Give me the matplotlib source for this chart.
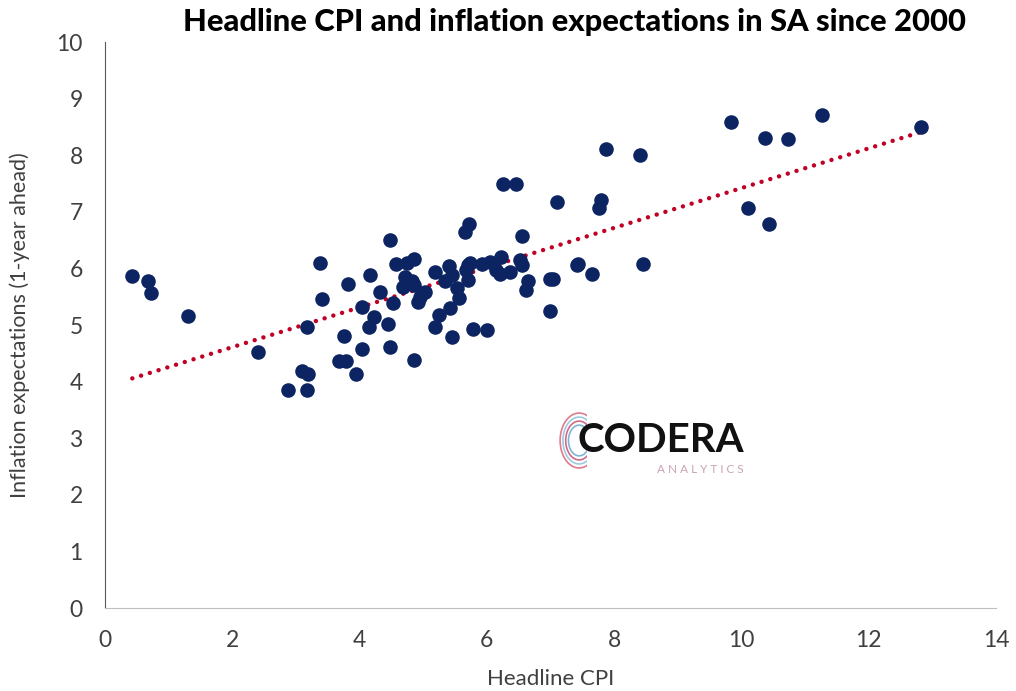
import numpy as np
import matplotlib.pyplot as plt
from matplotlib.patches import Arc

# headline CPI (x) vs 1-year-ahead inflation expectations (y)
cpi = [0.43, 0.67, 0.73, 1.30, 2.41, 2.88, 3.18, 3.09, 3.19, 3.17, 3.38, 3.41,
       3.75, 3.67, 3.79, 3.82, 3.94, 4.04, 4.04, 4.15, 4.17, 4.22, 4.32, 4.45,
       4.48, 4.48, 4.52, 4.58, 4.74, 4.85, 4.71, 4.82, 4.69, 4.85, 4.85, 4.92,
       4.95, 5.03, 5.19, 5.19, 5.25, 5.34, 5.40, 5.42, 5.46, 5.46, 5.53, 5.56,
       5.66, 5.72, 5.68, 5.70, 5.74, 5.70, 5.79, 5.92, 6.00, 6.05, 6.15, 6.21,
       6.22, 6.25, 6.36, 6.46, 6.52, 6.55, 6.55, 6.62, 6.65, 6.99, 6.99, 7.04,
       7.10, 7.41, 7.44, 7.66, 7.76, 7.79, 7.87, 8.40, 8.46, 9.84, 10.11, 10.37,
       10.44, 10.73, 11.27, 12.82]
expect = [5.87, 5.77, 5.57, 5.16, 4.52, 3.86, 3.86, 4.18, 4.14, 4.97, 6.10, 5.46,
          4.81, 4.37, 4.37, 5.72, 4.13, 5.31, 4.57, 4.97, 5.88, 5.14, 5.58, 5.01,
          6.50, 4.61, 5.39, 6.07, 6.09, 6.16, 5.84, 5.77, 5.68, 5.71, 4.39, 5.41,
          5.50, 5.59, 5.94, 4.97, 5.18, 5.78, 6.05, 5.30, 5.88, 4.78, 5.66, 5.47,
          6.65, 6.78, 5.97, 6.06, 6.09, 5.80, 4.93, 6.08, 4.92, 6.12, 5.97, 5.91,
          6.21, 7.49, 5.94, 7.49, 6.15, 6.06, 6.57, 5.62, 5.77, 5.82, 5.24, 5.81,
          7.18, 6.06, 6.07, 5.90, 7.07, 7.20, 8.11, 8.00, 6.08, 8.59, 7.06, 8.31,
          6.78, 8.28, 8.71, 8.49]

x_ticks = list(range(0, 15, 2))
y_ticks = list(range(0, 11))

plt.rcParams['font.family'] = ['Lato', 'DejaVu Sans']

fig = plt.figure(figsize=(10.16, 6.91), dpi=100)
ax = fig.add_axes([0.1033, 0.1201, 0.877, 0.8191])

ax.scatter(cpi, expect, s=110, color='#0c2461', zorder=3, linewidths=0)

# linear trend line, round dotted
slope, intercept = np.polyfit(cpi, expect, 1)
tx = np.array([min(cpi), max(cpi)])
ax.plot(tx, slope * tx + intercept, color='#c00025', lw=3.2,
        linestyle=(0, (0.01, 2.05)), dash_capstyle='round', zorder=2)

ax.set_xlim(0, 14)
ax.set_ylim(0, 10)
ax.set_xticks(x_ticks)
ax.set_yticks(y_ticks)
ax.tick_params(length=0, labelsize=16.5, labelcolor='#404040', pad=16)
for s in ['top', 'right']:
    ax.spines[s].set_visible(False)
ax.spines['left'].set_color('#595959')
ax.spines['bottom'].set_color('#bfbfbf')

ax.set_xlabel('Headline CPI', fontsize=16, color='#404040', labelpad=13)
ax.set_ylabel('Inflation expectations (1-year ahead)', fontsize=15.5,
              color='#404040', labelpad=19)

fig.text(0.565, 0.968, 'Headline CPI and inflation expectations in SA since 2000',
         ha='center', va='center', fontsize=22.2, fontweight='black')

# logo
fig.text(0.568, 0.362, 'CODERA', fontsize=29, fontweight='bold',
         color='#111111', ha='left', va='center')
fig.text(0.647, 0.321, 'A N A L Y T I C S', fontsize=8.5, color='#c9a2b4',
         ha='left', va='center')
lax = fig.add_axes([0.538, 0.32, 0.04, 0.085])
lax.set_xlim(0, 1)
lax.set_ylim(-1, 1)
lax.axis('off')
for r, c in zip([1.7, 1.45, 1.2, 0.95], ['#e07a8c', '#9ec9e0', '#d26a86', '#7fb6d6']):
    lax.add_patch(Arc((0.8, 0), r * 0.55, r * 1.1, theta1=60, theta2=300, color=c, lw=1.2))

fig.savefig('out.png', dpi=100)
